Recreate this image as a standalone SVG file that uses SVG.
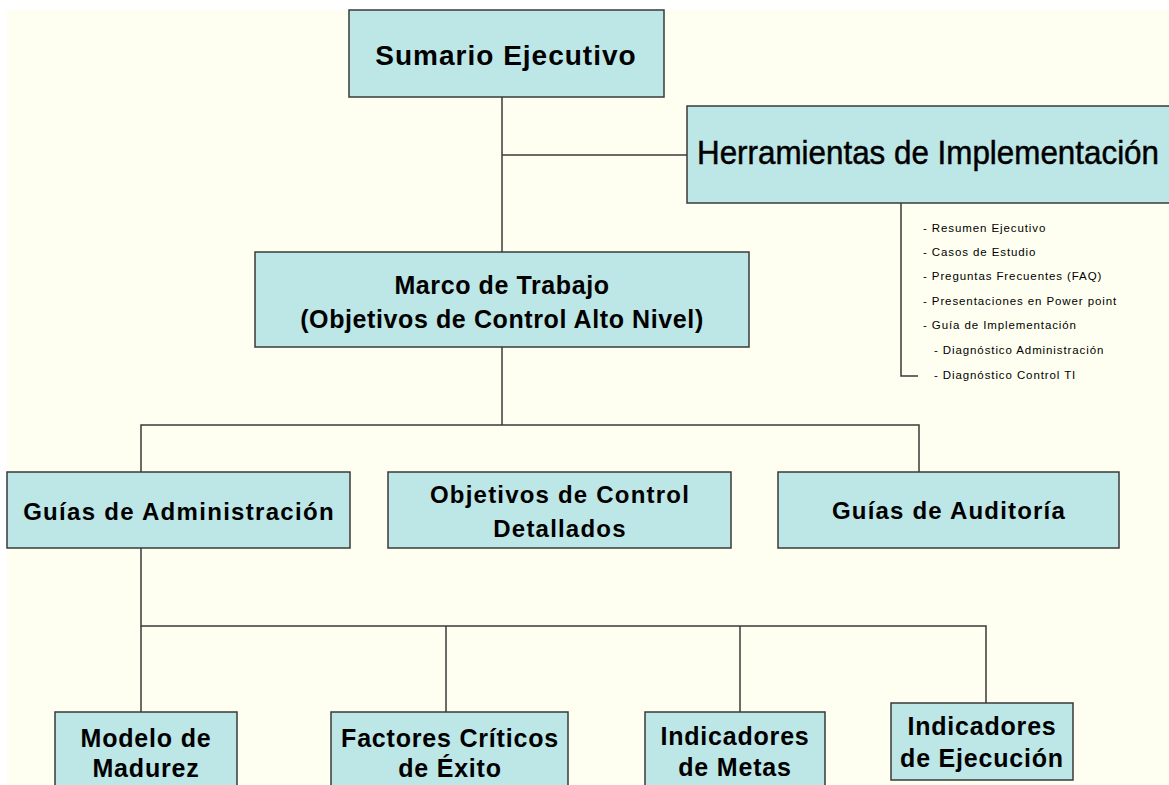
<svg xmlns="http://www.w3.org/2000/svg" width="1169" height="785" viewBox="0 0 1169 785">
<style>
.box{fill:#BDE6E6;stroke:#3a3a3a;stroke-width:1.5}
.t{font-family:"Liberation Sans",Arial,sans-serif;font-weight:bold;fill:#000;text-anchor:middle}
.s{font-family:"Liberation Sans",Arial,sans-serif;font-size:11.5px;letter-spacing:0.9px;fill:#000}
.c{fill:none;stroke:#3a3a3a;stroke-width:1.5}
</style>
<rect x="0" y="0" width="1169" height="785" fill="#FFFFFF"/>
<rect x="7" y="10" width="1162" height="775" fill="#FEFFF0"/>
<g id="connectors">
<path class="c" d="M502 97 V425"/>
<path class="c" d="M502 155 H687"/>
<path class="c" d="M901 203 V376 H918"/>
<path class="c" d="M141 472 V425 H919 V472"/>
<path class="c" d="M141 548 V626 H986 V703"/>
<path class="c" d="M141 626 V712"/>
<path class="c" d="M446 626 V712"/>
<path class="c" d="M740 626 V712"/>
</g>
<g id="sumario">
<rect class="box" x="349" y="10" width="315" height="87"/>
<text class="t" x="506" y="65" font-size="28" letter-spacing="1">Sumario Ejecutivo</text>
</g>
<g id="herramientas">
<rect class="box" x="687" y="106" width="490" height="97"/>
<text x="697" y="164" font-family="'Liberation Sans',Arial,sans-serif" font-size="33" stroke="#000" stroke-width="0.5" textLength="462" lengthAdjust="spacingAndGlyphs">Herramientas de Implementación</text>
</g>
<g id="herramientas-lista">
<text class="s" x="923" y="232">- Resumen Ejecutivo</text>
<text class="s" x="923" y="256">- Casos de Estudio</text>
<text class="s" x="923" y="280">- Preguntas Frecuentes (FAQ)</text>
<text class="s" x="923" y="305">- Presentaciones en Power point</text>
<text class="s" x="923" y="329">- Guía de Implementación</text>
<text class="s" x="934" y="354">- Diagnóstico Administración</text>
<text class="s" x="934" y="379">- Diagnóstico Control TI</text>
</g>
<g id="marco">
<rect class="box" x="255" y="252" width="494" height="95"/>
<text class="t" x="502" y="294" font-size="25" letter-spacing="0.6">Marco de Trabajo</text>
<text class="t" x="502" y="328" font-size="25" letter-spacing="0.6">(Objetivos de Control Alto Nivel)</text>
</g>
<g id="guias-admin">
<rect class="box" x="7" y="472" width="343" height="76"/>
<text class="t" x="179" y="520" font-size="24" letter-spacing="1.3">Guías de Administración</text>
</g>
<g id="objetivos">
<rect class="box" x="388" y="472" width="343" height="76"/>
<text class="t" x="560" y="503" font-size="24" letter-spacing="1.2">Objetivos de Control</text>
<text class="t" x="560" y="537" font-size="24" letter-spacing="1.2">Detallados</text>
</g>
<g id="guias-auditoria">
<rect class="box" x="778" y="472" width="341" height="76"/>
<text class="t" x="949" y="519" font-size="24" letter-spacing="1.2">Guías de Auditoría</text>
</g>
<g id="modelo">
<rect class="box" x="55" y="712" width="182" height="80"/>
<text class="t" x="146" y="747" font-size="25" letter-spacing="0.8">Modelo de</text>
<text class="t" x="146" y="777" font-size="25" letter-spacing="0.8">Madurez</text>
</g>
<g id="factores">
<rect class="box" x="331" y="712" width="237" height="80"/>
<text class="t" x="450" y="747" font-size="25" letter-spacing="0.8">Factores Críticos</text>
<text class="t" x="450" y="777" font-size="25" letter-spacing="0.8">de Éxito</text>
</g>
<g id="metas">
<rect class="box" x="645" y="712" width="180" height="80"/>
<text class="t" x="735" y="745" font-size="25" letter-spacing="0.8">Indicadores</text>
<text class="t" x="735" y="776" font-size="25" letter-spacing="0.8">de Metas</text>
</g>
<g id="ejecucion">
<rect class="box" x="891" y="703" width="182" height="77"/>
<text class="t" x="982" y="735" font-size="25" letter-spacing="0.8">Indicadores</text>
<text class="t" x="982" y="767" font-size="25" letter-spacing="0.8">de Ejecución</text>
</g>
</svg>
